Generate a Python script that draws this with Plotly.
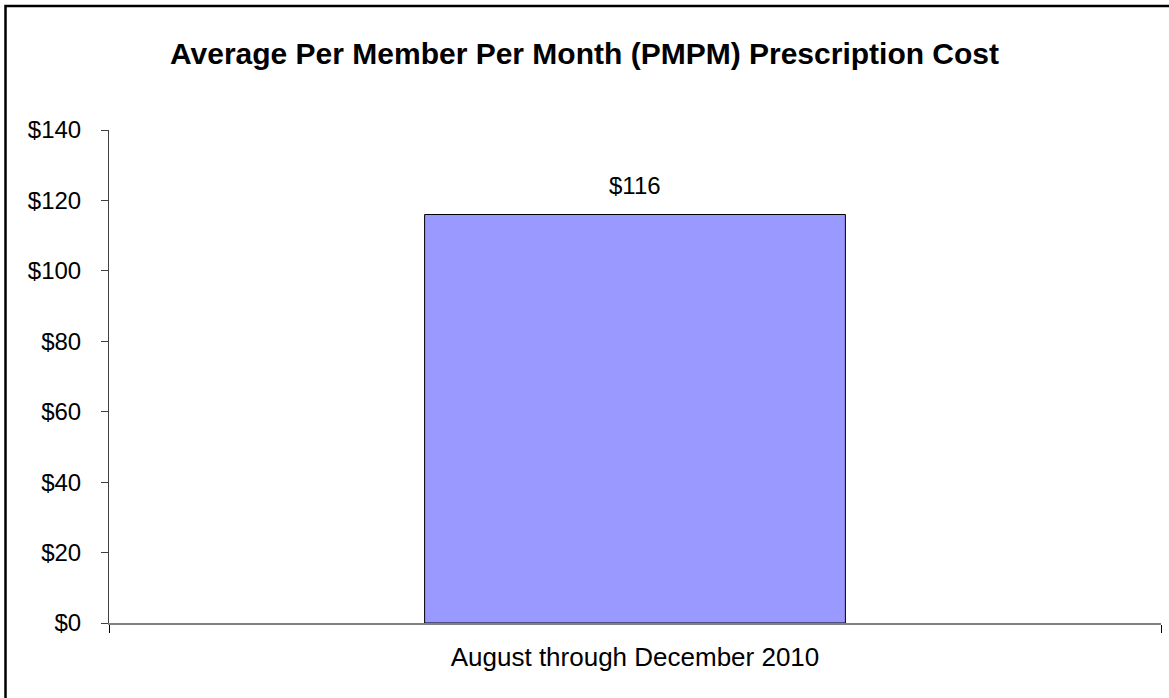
import plotly.graph_objects as go

categories = ["August through December 2010"]
pmpm_cost = [116]
y_tick_values = [0, 20, 40, 60, 80, 100, 120, 140]
y_tick_labels = ["$0", "$20", "$40", "$60", "$80", "$100", "$120", "$140"]
title_text = "Average Per Member Per Month (PMPM) Prescription Cost"

W, H = 1169, 698
L, R, T, B = 109, 8, 130, 75
pw, ph = W - L - R, H - T - B

FONT = "Arial, 'Liberation Sans', sans-serif"

fig = go.Figure()
fig.add_trace(go.Bar(
    x=categories, y=pmpm_cost, width=0.4,
    marker=dict(color="#9999FF", line=dict(color="#000000", width=1)),
    hoverinfo="skip",
))
for c, v in zip(categories, pmpm_cost):
    fig.add_annotation(x=c, y=v, text=f"${v}", showarrow=False,
                       yanchor="bottom", yshift=14,
                       font=dict(family=FONT, size=24, color="#000000"))

def px_x(p):
    return (p - L) / pw

def px_y(p):
    return (H - B - p) / ph

fig.add_shape(type="rect", xref="paper", yref="paper",
              x0=px_x(5.5), x1=px_x(1180), y0=px_y(710), y1=px_y(6),
              line=dict(color="#000000", width=2.5), fillcolor="rgba(0,0,0,0)", layer="above")

fig.update_layout(
    width=W, height=H,
    margin=dict(l=L, r=R, t=T, b=B),
    paper_bgcolor="white", plot_bgcolor="white",
    showlegend=False,
    font=dict(family=FONT, size=24, color="#000000"),
    title=dict(text=f"<b>{title_text}</b>", x=0.5, xanchor="center",
               y=1 - 53 / H, yanchor="middle", yref="container",
               font=dict(family=FONT, size=30, color="#000000")),
)
fig.update_xaxes(
    type="category", tickson="boundaries", ticks="outside", ticklen=8,
    tickcolor="#000000", tickwidth=1,
    showline=True, linecolor="#808080", linewidth=2,
    showgrid=False, zeroline=False, ticklabelstandoff=10,
    tickfont=dict(family=FONT, size=26, color="#000000"),
)
fig.update_yaxes(
    range=[0, 140], tickvals=y_tick_values, ticktext=y_tick_labels,
    ticks="outside", ticklen=7, tickcolor="#404040", tickwidth=1,
    showline=True, linecolor="#404040", linewidth=1,
    showgrid=False, zeroline=False, ticklabelstandoff=15,
    tickfont=dict(family=FONT, size=24, color="#000000"),
)

fig.write_html("out.html", config={"displayModeBar": False},
               post_script="document.body.style.margin='0';document.body.style.overflow='hidden';")
